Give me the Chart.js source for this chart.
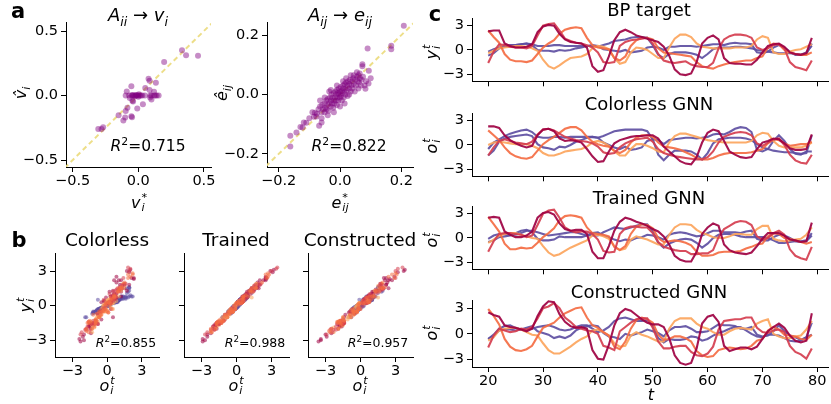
<!DOCTYPE html>
<html><head><meta charset="utf-8">
<script src="https://cdn.jsdelivr.net/npm/chart.js@4.4.1/dist/chart.umd.min.js"></script>
<style>
html,body{margin:0;padding:0;background:#fff;}
body{width:831px;height:404px;position:relative;overflow:hidden;font-family:'DejaVu Sans',sans-serif;color:#000;}
canvas{position:absolute;}
.lb{position:absolute;white-space:nowrap;line-height:1;transform:translate(-50%,-50%);}
.rot{transform:translate(-50%,-50%) rotate(-90deg);}
sub,sup{font-size:0.7em;line-height:0;}
.ss{display:inline-block;vertical-align:-0.3em;line-height:0.9;font-size:0.7em;margin-left:1px;}
.ss>span{display:block;}
</style></head><body>
<script>
// ---------------- DATA ----------------
// panel a: scatter of true vs predicted parameters
const vStar = [0.333,0.364,0.455,0.197,0.078,0.086,0.134,-0.053,-0.088,0.053,0.086,
  -0.096,-0.07,-0.05,-0.04,-0.03,-0.02,-0.01,0.0,0.01,0.02,0.005,-0.015,0.03,0.05,0.09,0.1,0.12,0.13,0.14,0.155,0.09,0.1,-0.045,0.0,-0.025,
  -0.045,-0.04,0.035,-0.008,-0.083,-0.096,-0.053,-0.048,-0.15,-0.114,-0.10,-0.28,-0.305,-0.268,-0.065,0.12];
const vHat = [0.351,0.312,0.309,0.259,0.131,0.115,0.099,0.071,0.031,0.058,0.042,
  0.0,0.0,0.0,0.0,0.0,0.0,0.0,0.0,0.0,0.0,0.01,0.005,0.0,0.0,0.0,0.0,0.0,0.0,0.0,0.0,-0.016,-0.03,0.005,-0.01,-0.005,
  -0.04,-0.047,-0.068,-0.10,-0.094,-0.12,-0.16,-0.168,-0.152,-0.194,-0.17,-0.26,-0.259,-0.246,-0.02,0.03];
const eStar = [0.208,0.167,0.167,0.09,0.073,0.073,0.094,0.064,0.093,0.083,-0.162,-0.162,-0.142,-0.129,-0.118,-0.122,-0.082,-0.077,-0.068,-0.06,
  -0.07,-0.065,-0.06,-0.058,-0.055,-0.05,-0.05,-0.048,-0.045,-0.044,-0.04,-0.04,-0.038,-0.035,-0.033,-0.03,-0.03,-0.028,-0.026,-0.025,
  -0.022,-0.02,-0.02,-0.018,-0.016,-0.015,-0.013,-0.012,-0.01,-0.01,-0.008,-0.006,-0.005,-0.004,-0.002,0.0,0.0,0.002,0.003,0.005,
  0.006,0.008,0.01,0.01,0.012,0.014,0.015,0.017,0.018,0.02,0.022,0.024,0.025,0.027,0.03,0.03,0.033,0.035,0.037,0.04,
  0.04,0.043,0.045,0.048,0.05,0.052,0.055,0.058,0.06,0.062,0.065,0.068,0.07,0.075,0.045,0.02,-0.01,-0.03,-0.05,-0.065,
  -0.075,-0.085,-0.09,-0.1,-0.11,0.085,0.08,0.1,0.055,0.035,-0.04,-0.02,0.0,0.015,-0.06,0.03,0.06,-0.035,0.01];
const eHat = [0.231,0.164,0.152,0.155,0.102,0.095,0.08,0.071,0.037,0.019,-0.139,-0.175,-0.128,-0.109,-0.094,-0.111,-0.061,-0.074,-0.105,-0.094,
  -0.05,-0.04,-0.06,-0.035,-0.05,-0.03,-0.06,-0.045,-0.02,-0.05,-0.035,-0.015,-0.055,-0.03,-0.01,-0.04,-0.02,0.0,-0.03,-0.012,
  -0.045,-0.02,0.005,-0.03,-0.01,0.01,-0.02,0.0,-0.035,0.015,-0.01,0.005,-0.02,0.02,0.0,-0.01,0.01,0.025,-0.005,0.012,
  -0.02,0.005,0.02,0.03,-0.01,0.01,0.035,0.0,0.02,0.04,0.015,0.03,-0.005,0.045,0.02,0.035,0.05,0.01,0.03,0.045,
  0.02,0.055,0.035,0.01,0.05,0.03,0.06,0.045,0.02,0.04,0.055,0.03,0.05,0.06,0.065,0.055,0.03,0.015,-0.01,-0.02,
  -0.065,-0.075,-0.06,-0.08,-0.095,0.045,0.03,0.055,0.075,0.065,-0.07,-0.06,-0.04,-0.03,-0.08,0.0,0.065,0.01,0.045];
const diagLine = [-0.7, 0.7];

// panel c: time steps and node trajectories
const tSteps = [20,21,22,23,24,25,26,27,28,29,30,31,32,33,34,35,36,37,38,39,40,41,42,43,44,45,46,47,48,49,
  50,51,52,53,54,55,56,57,58,59,60,61,62,63,64,65,66,67,68,69,70,71,72,73,74,75,76,77,78,79];

// BP target y_i^t
const bpCrimson = [2.3,2.4,2.4,0.8,0.5,0.3,0.3,0.4,0.7,2.2, 2.9,3.1,3.0,2.0,1.3,1.0,0.9,0.8,0.3,-2.0,
  -2.7,-2.5,-0.8,1.2,2.2,2.5,2.2,1.8,1.6,1.4, 1.2,1.0,0.4,-0.7,-2.4,-3.0,-3.1,-2.9,-1.5,0.8,
  1.5,1.8,1.3,-1.0,-1.6,-1.7,-1.7,-1.8,-1.8,-1.2, -0.3,0.5,0.7,0.8,0.4,-0.3,-0.5,-0.6,-0.4,1.5];
const bpRed = [-1.6,-0.2,0.7,0.6,0.4,0.3,0.3,0.2,0.5,1.8, 3.0,3.2,3.3,2.4,1.4,1.1,0.9,0.8,0.6,0.3,
  -0.3,-1.5,-1.6,-1.5,0.5,1.0,1.2,1.3,1.4,1.5, 0.8,-0.5,-1.3,-1.5,-1.6,-1.5,-1.4,-1.8,-2.0,-2.1,
  -2.1,-1.6,0.2,1.3,1.7,1.9,1.9,1.8,1.5,0.3, 0.0,0.2,0.6,0.7,0.2,-1.5,-2.1,-2.3,-2.5,-1.3];
const bpOrangeRed = [2.4,1.6,0.9,-0.5,-1.2,-1.4,-1.4,-1.5,-1.3,-0.5, 0.3,0.8,1.2,2.0,2.5,2.7,2.8,2.7,1.5,0.6,
  0.3,0.2,0.1,-1.0,-1.3,-0.8,0.5,1.2,1.5,1.5, 1.3,0.2,-0.3,-0.4,-0.5,-0.6,-0.7,-0.8,-1.5,-2.0,
  -2.2,-2.3,-2.0,-1.8,-1.6,-1.5,-1.4,-1.3,-1.3,-1.0, -0.8,0.3,0.8,0.7,0.0,-0.3,-0.5,-0.6,-0.6,-0.3];
const bpOrange = [-0.4,-0.1,0.2,0.3,0.4,0.5,0.5,0.4,0.2,-0.1, -1.2,-2.0,-2.3,-1.9,-1.4,-1.0,-0.9,-0.8,-0.5,0.2,
  0.5,0.4,0.1,-1.0,-1.7,-1.5,-0.3,0.3,0.2,0.0, -0.5,-1.0,-1.0,0.3,1.4,1.9,1.9,1.6,0.8,0.4,
  0.3,0.2,0.2,0.2,0.2,0.3,0.3,0.3,0.5,1.3, 1.7,1.5,-0.3,-0.5,-0.5,-0.2,0.0,0.1,0.4,0.7];
const bpBlueA = [-0.2,0.1,0.3,0.5,0.6,0.6,0.7,0.8,0.7,0.5, 0.5,0.5,0.6,0.6,0.5,0.5,0.5,0.5,0.5,0.5,
  0.4,0.6,0.8,1.1,1.2,1.3,1.5,1.6,1.6,1.5, 0.6,-0.6,-1.0,-0.5,-0.3,-0.3,-0.3,-0.4,-0.6,-1.0,
  -0.5,0.1,0.3,0.3,0.3,0.4,0.4,0.3,0.2,0.0, -0.1,-0.2,-0.3,-0.4,-0.4,-0.4,-0.5,-0.6,-0.5,0.8];
const bpBlueB = [-0.7,-0.4,0.2,0.4,0.5,0.6,0.7,0.8,0.6,0.0, -0.1,-0.1,-0.2,0.0,-0.1,0.0,0.2,0.3,0.5,0.6,
  0.5,0.1,0.0,-0.1,-0.2,0.0,-0.3,-0.2,-0.1,0.3, 0.4,0.3,0.0,0.4,0.4,0.5,0.5,0.5,0.4,0.5,
  0.6,0.7,0.7,0.6,0.8,0.9,0.8,0.8,0.7,-0.3, -0.4,-0.2,0.3,0.6,0.3,-0.2,-0.6,-0.6,-0.3,0.5];

// Colorless GNN o_i^t
const clCrimson = [2.3,2.3,2.1,1.2,0.6,0.2,-0.1,-0.3,-0.1,1.2, 1.9,2.0,1.7,0.8,0.5,0.6,0.5,0.3,-0.5,-1.4,
  -2.1,-2.0,-0.8,0.2,0.6,0.8,1.0,1.1,1.1,1.2, 1.2,0.8,-0.2,-0.8,-1.4,-2.0,-2.3,-2.4,-1.5,0.3,
  1.5,1.9,1.7,0.5,-0.8,-1.2,-1.5,-1.6,-1.5,-0.5, 0.3,0.5,0.8,0.7,0.2,-0.4,-0.6,-0.6,-0.5,1.3];
const clRed = [-1.3,-0.3,0.5,0.7,0.5,0.3,0.2,0.1,0.4,1.3, 1.9,2.0,1.8,1.4,1.0,0.8,0.6,0.5,0.4,0.2,
  -0.2,-0.9,-1.1,-1.0,-0.3,0.2,0.5,0.7,0.8,0.9, 0.4,-0.5,-1.0,-1.2,-1.4,-1.5,-1.6,-1.7,-1.8,-1.8,
  -1.5,-0.8,0.3,1.0,1.3,1.5,1.6,1.5,1.2,0.2, -0.1,0.3,0.7,0.8,0.0,-1.2,-1.9,-2.2,-2.3,-1.2];
const clOrangeRed = [1.8,1.2,0.6,-0.3,-1.0,-1.4,-1.6,-1.7,-1.5,-0.7, 0.1,0.6,1.0,1.5,2.0,2.2,2.2,1.8,1.0,0.4,
  0.1,-0.1,-0.2,-0.7,-1.0,-0.6,0.3,0.9,1.2,1.2, 1.0,0.3,-0.2,-0.3,-0.4,-0.6,-0.9,-1.2,-1.6,-1.8,
  -1.8,-1.6,-1.3,-1.1,-1.0,-1.0,-1.0,-1.0,-0.9,-0.7, -0.5,0.2,0.7,0.6,0.2,-0.1,0.0,0.1,0.1,0.4];
const clOrange = [0.0,0.3,0.4,0.3,0.2,0.1,0.1,0.1,-0.1,-0.4, -1.0,-1.3,-1.3,-1.1,-0.8,-0.7,-0.6,-0.5,-0.2,0.3,
  0.5,0.3,-0.1,-0.8,-1.3,-1.3,-0.5,0.1,0.1,-0.1, -0.4,-0.8,-0.9,0.3,1.1,1.4,1.4,1.2,1.0,0.8,
  0.6,0.5,0.4,0.3,0.3,0.3,0.3,0.3,0.5,1.2, 1.5,1.4,0.5,-0.1,-0.3,-0.3,-0.3,-0.3,-0.1,0.3];
const clBlueA = [-0.5,0.3,0.7,1.1,1.4,1.6,1.8,1.9,1.6,1.0, 0.9,0.9,1.0,1.0,0.9,1.0,1.0,1.0,1.0,1.0,
  0.9,1.1,1.4,1.7,1.8,1.9,1.9,1.9,1.9,1.7, 0.7,-1.2,-1.9,-1.2,-0.7,-0.7,-0.7,-0.8,-1.2,-1.8,
  -1.0,0.2,0.7,0.8,0.9,0.9,0.9,0.8,0.6,0.1, -0.3,-0.5,-0.7,-0.8,-0.9,-0.9,-1.0,-1.1,-1.0,1.2];
const clBlueB = [-1.3,-0.7,0.4,0.8,1.0,1.1,1.2,1.3,1.1,0.1, -0.3,-0.4,-0.6,-0.2,-0.3,0.0,0.4,0.6,0.9,1.0,
  0.9,0.3,0.0,-0.3,-0.5,-0.2,-0.6,-0.5,-0.3,0.5, 0.7,0.6,0.1,0.6,0.7,0.8,0.9,0.9,0.8,0.9,
  1.0,1.3,1.4,1.3,1.6,2.0,2.2,2.1,1.6,-0.6, -0.8,-0.5,0.5,1.2,0.5,-0.5,-1.1,-1.2,-0.8,-0.8];

// Trained GNN o_i^t
const trCrimson = [2.5,2.6,2.5,0.8,0.4,0.1,0.1,0.3,0.8,2.5, 3.1,3.2,2.9,1.8,1.1,0.9,1.0,1.0,0.5,-1.7,
  -2.5,-2.5,-1.0,0.9,2.0,2.5,2.3,2.0,1.8,1.5, 1.1,0.8,0.2,-0.8,-2.2,-2.7,-2.9,-2.9,-1.7,0.5,
  1.3,1.8,1.5,-0.8,-1.5,-1.8,-1.9,-2.0,-1.8,-1.0, -0.1,0.6,0.6,0.6,0.3,-0.2,-0.3,-0.5,-0.4,1.9];
const trRed = [-1.7,-0.4,0.5,0.6,0.6,0.5,0.4,0.1,0.3,1.6, 3.0,3.4,3.5,2.5,1.3,0.9,0.7,0.8,0.8,0.5,
  -0.2,-1.6,-1.8,-1.7,0.5,1.2,1.4,1.4,1.3,1.3, 0.6,-0.5,-1.1,-1.3,-1.5,-1.6,-1.6,-2.0,-2.0,-1.9,
  -1.9,-1.5,0.1,1.1,1.5,1.9,2.1,2.0,1.6,0.2, -0.2,0.0,0.6,0.9,0.4,-1.4,-2.2,-2.5,-2.7,-1.1];
const trOrangeRed = [2.6,1.7,0.8,-0.7,-1.4,-1.4,-1.2,-1.3,-1.2,-0.6, 0.1,0.6,1.2,2.2,2.7,2.8,2.7,2.5,1.3,0.6,
  0.5,0.4,0.2,-1.1,-1.5,-1.0,0.5,1.4,1.7,1.6, 1.2,0.0,-0.5,-0.4,-0.3,-0.4,-0.6,-0.9,-1.7,-2.2,
  -2.2,-2.1,-1.8,-1.7,-1.7,-1.7,-1.6,-1.3,-1.1,-0.8, -0.7,0.2,0.6,0.5,0.0,-0.1,-0.3,-0.5,-0.7,-0.5];
const trOrange = [-0.6,-0.2,0.3,0.5,0.6,0.6,0.4,0.2,0.0,-0.1, -1.0,-1.8,-2.2,-2.0,-1.6,-1.2,-0.9,-0.6,-0.3,0.3,
  0.4,0.2,-0.1,-1.0,-1.5,-1.3,-0.2,0.2,0.0,-0.2, -0.5,-0.8,-0.8,0.4,1.3,1.7,1.7,1.6,1.0,0.6,
  0.4,0.1,0.0,0.0,0.2,0.5,0.5,0.4,0.4,1.1, 1.5,1.5,-0.1,-0.3,-0.4,-0.3,-0.2,-0.1,0.4,1.3];
const trBlueA = [-0.1,0.3,0.5,0.5,0.4,0.4,0.6,0.9,0.9,0.7, 0.5,0.3,0.4,0.5,0.6,0.7,0.7,0.5,0.3,0.3,
  0.3,0.7,1.0,1.3,1.2,1.1,1.3,1.5,1.7,1.7, 0.8,-0.6,-1.2,-0.7,-0.4,-0.2,-0.1,-0.2,-0.6,-1.2,
  -0.7,0.0,0.4,0.5,0.5,0.4,0.2,0.1,0.1,0.1, 0.1,0.0,-0.3,-0.6,-0.6,-0.5,-0.4,-0.4,-0.3,0.6];
const trBlueB = [-0.5,-0.3,0.1,0.2,0.3,0.6,0.9,1.0,0.7,-0.1, -0.3,-0.3,-0.2,0.2,0.1,0.1,0.1,0.1,0.3,0.6,
  0.7,0.3,0.1,-0.2,-0.4,-0.2,-0.3,0.0,0.1,0.4, 0.3,0.1,-0.2,0.4,0.6,0.7,0.6,0.4,0.2,0.3,
  0.6,0.9,0.9,0.7,0.7,0.7,0.6,0.8,0.9,-0.1, -0.3,-0.3,0.1,0.4,0.3,0.0,-0.4,-0.5,-0.4,0.3];

// Constructed GNN o_i^t
const cnCrimson = [2.5,2.2,2.0,1.0,0.8,0.7,0.5,0.3,0.6,2.1, 3.2,3.8,3.7,2.3,1.4,0.9,0.7,0.8,0.6,-1.9,
  -2.9,-3.0,-1.3,1.0,2.4,2.9,2.7,2.2,1.7,1.3, 1.1,1.1,0.8,-0.5,-2.5,-3.4,-3.6,-3.4,-1.7,1.2,
  2.0,2.2,1.4,-1.4,-2.0,-1.8,-1.6,-1.6,-1.8,-1.5, -0.6,0.3,0.8,1.2,0.7,-0.2,-0.8,-1.0,-0.8,2.4];
const cnRed = [-1.6,-0.2,0.6,0.4,0.2,0.3,0.6,0.5,0.8,1.8, 3.0,3.2,3.6,3.0,1.9,1.4,0.8,0.6,0.4,0.3,
  0.0,-1.4,-1.6,-1.9,0.3,0.8,1.3,1.7,1.8,1.8, 0.7,-0.9,-1.7,-1.7,-1.5,-1.4,-1.4,-2.1,-2.5,-2.6,
  -2.3,-1.5,0.5,1.5,1.6,1.7,1.7,1.9,1.9,0.7, 0.2,0.1,0.4,0.5,0.2,-1.4,-2.1,-2.4,-2.9,-1.7];
const cnOrangeRed = [2.9,2.1,1.1,-0.6,-1.5,-1.9,-2.0,-1.8,-1.4,-0.3, 0.7,1.0,1.3,1.9,2.4,2.7,3.0,3.1,1.9,1.0,
  0.7,0.2,-0.2,-1.5,-1.8,-0.9,0.6,1.6,1.9,1.7, 1.3,-0.1,-0.7,-0.6,-0.3,-0.3,-0.5,-0.9,-2.0,-2.5,
  -2.7,-2.6,-1.9,-1.7,-1.6,-1.7,-1.8,-1.7,-1.4,-0.8, -0.6,0.4,0.8,0.5,-0.1,-0.2,-0.3,-0.6,-0.7,-0.1];
const cnOrange = [-0.8,-0.4,0.4,0.6,0.7,0.7,0.5,0.2,-0.1,-0.2, -1.1,-1.9,-2.3,-2.3,-1.9,-1.5,-1.0,-0.6,-0.3,0.4,
  0.5,0.2,-0.2,-1.1,-1.5,-1.4,-0.2,0.2,-0.1,-0.3, -0.6,-0.9,-0.9,0.6,1.5,1.8,1.8,1.8,1.2,0.8,
  0.6,0.2,-0.1,-0.1,0.3,0.6,0.7,0.6,0.5,1.2, 1.5,1.7,0.0,-0.3,-0.5,-0.5,-0.3,-0.2,0.5,1.5];
const cnBlueA = [-0.6,-0.1,0.6,0.9,1.0,0.7,0.5,0.5,0.6,0.8, 0.9,1.0,0.8,0.5,0.4,0.5,0.8,1.0,1.0,0.6,
  0.2,0.4,0.8,1.5,1.8,1.9,1.7,1.5,1.5,1.6, 0.9,-0.5,-1.0,-0.6,-0.7,-0.7,-0.6,-0.3,-0.4,-0.8,
  -0.6,-0.2,0.1,0.3,0.6,0.8,0.8,0.4,0.0,-0.3, -0.4,-0.1,-0.1,-0.2,-0.5,-0.8,-0.9,-0.8,-0.4,1.3];
const cnBlueB = [-0.6,-0.2,0.4,0.5,0.5,0.4,0.5,0.7,0.9,0.3, 0.1,-0.1,-0.5,-0.3,-0.5,-0.2,0.4,0.7,0.9,1.0,
  0.9,0.1,-0.3,-0.4,-0.6,0.0,-0.2,0.0,0.2,0.5, 0.3,0.1,-0.3,0.4,0.8,0.8,0.9,0.6,0.2,0.2,
  0.3,0.7,1.1,1.0,1.0,0.9,0.6,0.6,0.8,-0.1, -0.3,-0.2,0.3,1.0,0.3,-0.2,-0.4,-0.7,-0.4,-0.1];

const r2Texts = ['0.715','0.822','0.855','0.988','0.957'];
const scaleATicks = [-0.5, 0, 0.5];
const scaleETicks = [-0.2, 0, 0.2];
const scaleBTicks = [-3, 0, 3];
const scaleCYTicks = [-3, 0, 3];
const scaleCXTicks = [20, 30, 40, 50, 60, 70, 80];

// ---------------- STYLE ----------------
const lineColors = ['#9e0142','#d53e4f','#f46d43','#fca55d','#5e4fa2','#5e4fa2'];
const scatterOrder = [4, 2, 1, 3, 6, 5];
const FONT = 'DejaVu Sans';
const TICKSIZE = 14.5;

const bpSeries = [bpCrimson,bpRed,bpOrangeRed,bpOrange,bpBlueA,bpBlueB];
const clSeries = [clCrimson,clRed,clOrangeRed,clOrange,clBlueA,clBlueB];
const trSeries = [trCrimson,trRed,trOrangeRed,trOrange,trBlueA,trBlueB];
const cnSeries = [cnCrimson,cnRed,cnOrangeRed,cnOrange,cnBlueA,cnBlueB];

Chart.defaults.font.family = FONT;

function fmt1(v){ return (v<0?'\u2212':'') + Math.abs(v).toFixed(1); }
function fmt0(v){ return (v<0?'\u2212':'') + Math.abs(v).toFixed(0); }

function axis(min, max, ticks, fmt, show, pad){
  return {
    type:'linear', min:min, max:max,
    afterBuildTicks: ax => { ax.ticks = ticks.map(v => ({value:v})); },
    ticks:{ font:{family:FONT,size:TICKSIZE}, color:'#000', padding:pad, maxRotation:0, autoSkip:false,
      callback: v => show ? fmt(v) : '' },
    grid:{ drawOnChartArea:false, drawTicks:true, tickLength:5, color:'#000', lineWidth:1 },
    border:{ display:true, color:'#000', width:1 }
  };
}
const xAxis = (a,b,t,f,s) => axis(a,b,t,f,s,1);
const yAxis = (a,b,t,f,s) => axis(a,b,t,f,s,3);

function mk(box, W, H, type, datasets, xs, ys){
  const PT = 12, PR = 16;
  const w = box.r - box.l + W + PR, h = box.b - box.t + PT + H;
  const c = document.createElement('canvas');
  c.width = w; c.height = h;
  c.style.left = (box.l - W) + 'px'; c.style.top = (box.t - PT) + 'px';
  c.style.width = w + 'px'; c.style.height = h + 'px';
  document.body.appendChild(c);
  xs.afterFit = s => { s.height = H; };
  ys.afterFit = s => { s.width = W; };
  return new Chart(c, { type: type, data:{ datasets: datasets }, options:{
    responsive:false, animation:false, devicePixelRatio:1, events:[],
    layout:{ padding:{ top:PT, right:PR, left:0, bottom:0 } },
    plugins:{ legend:{display:false}, tooltip:{enabled:false}, title:{display:false} },
    scales:{ x:xs, y:ys }
  }});
}

function diagDataset(){
  return { type:'line', data: diagLine.map(v => ({x:v, y:v})), borderColor:'rgba(236,220,130,0.95)',
    borderWidth:2, borderDash:[5,3.5], pointRadius:0, fill:false, clip:0, order:2 };
}
function pts(xArr, yArr){ return xArr.map((x,i) => ({x:x, y:yArr[i]})); }

// panel a
mk({l:66,t:22,r:211,b:167}, 50, 30, 'scatter', [
  { data: pts(vStar, vHat), backgroundColor:'rgba(128,0,128,0.45)', pointRadius:3, pointBorderWidth:0, order:1 },
  diagDataset()
], xAxis(-0.551,0.554,scaleATicks,fmt1,true), yAxis(-0.554,0.570,scaleATicks,fmt1,true));

mk({l:267,t:22,r:413,b:167}, 50, 30, 'scatter', [
  { data: pts(eStar, eHat), backgroundColor:'rgba(128,0,128,0.45)', pointRadius:3, pointBorderWidth:0, order:1 },
  diagDataset()
], xAxis(-0.238,0.238,scaleETicks,fmt1,true), yAxis(-0.244,0.244,scaleETicks,fmt1,true));

// panel b: GNN output vs BP target
function bSets(gnn){
  return bpSeries.map((ys,k) => ({ data: pts(gnn[k], ys), backgroundColor: lineColors[k] + '8c',
    pointRadius:2, pointBorderWidth:0, order: scatterOrder[k] }));
}
mk({l:55,t:253,r:159,b:357}, 50, 30, 'scatter', bSets(clSeries),
  xAxis(-4.5,4.47,scaleBTicks,fmt0,true), yAxis(-4.45,4.56,scaleBTicks,fmt0,true));
mk({l:184,t:253,r:289,b:357}, 50, 30, 'scatter', bSets(trSeries),
  xAxis(-4.5,4.5,scaleBTicks,fmt0,true), yAxis(-4.45,4.56,scaleBTicks,fmt0,false));
mk({l:308,t:253,r:413,b:357}, 50, 30, 'scatter', bSets(cnSeries),
  xAxis(-4.5,4.5,scaleBTicks,fmt0,true), yAxis(-4.45,4.56,scaleBTicks,fmt0,false));

// panel c: trajectories
function cSets(series){
  return series.map((arr,k) => ({ data: pts(tSteps, arr), borderColor: lineColors[k] + 'eb',
    borderWidth:2.1, pointRadius:0, tension:0, fill:false }));
}
const cBoxes = [{l:472,t:18,r:828,b:85},{l:472,t:112.5,r:828,b:179.5},{l:472,t:206,r:828,b:273},{l:472,t:300,r:828,b:367}];
const cSeriesAll = [bpSeries, clSeries, trSeries, cnSeries];
cBoxes.forEach((bx,i) => {
  const last = i === 3;
  mk(bx, 50, last ? 30 : 8, 'line', cSets(cSeriesAll[i]),
    xAxis(17.05,81.95,scaleCXTicks,fmt0,last), yAxis(-3.87,3.95,scaleCYTicks,fmt0,true));
});

// ---------------- TEXT ----------------
function lab(html, x, y, size, opt){
  opt = opt || {};
  const d = document.createElement('div');
  d.className = 'lb' + (opt.rot ? ' rot' : '');
  d.style.left = x + 'px'; d.style.top = y + 'px'; d.style.fontSize = size + 'px';
  if (opt.bold) d.style.fontWeight = 'bold';
  d.innerHTML = html;
  document.body.appendChild(d);
}
const ss = (up, dn) => '<span class="ss"><span>' + up + '</span><span>' + dn + '</span></span>';

lab('a', 18, 11, 21, {bold:true});
lab('b', 19, 240, 21, {bold:true});
lab('c', 435, 14, 21, {bold:true});

lab('<i>A</i><sub><i>ii</i></sub> \u2192 <i>v</i><sub><i>i</i></sub>', 138, 15, 18);
lab('<i>A</i><sub><i>ij</i></sub> \u2192 <i>e</i><sub><i>ij</i></sub>', 340, 15, 18);
lab('<i>v\u0302</i><sub><i>i</i></sub>', 21, 93, 16, {rot:true});
lab('<i>v</i>' + ss('*','<i>i</i>'), 139, 203, 16);
lab('<i>\u00ea</i><sub><i>ij</i></sub>', 222, 93, 16, {rot:true});
lab('<i>e</i>' + ss('*','<i>ij</i>'), 340, 203, 16);
lab('<i>R</i><sup>2</sup>=' + r2Texts[0], 148, 147, 15.5);
lab('<i>R</i><sup>2</sup>=' + r2Texts[1], 349, 147, 15.5);

lab('Colorless', 107, 240, 18.5);
lab('Trained', 236, 240, 18.5);
lab('Constructed', 360, 240, 18.5);
lab('<i>y</i>' + ss('<i>t</i>','<i>i</i>'), 26, 305, 16, {rot:true});
[107, 236, 360].forEach(x => lab('<i>o</i>' + ss('<i>t</i>','<i>i</i>'), x, 386, 16));
lab('<i>R</i><sup>2</sup>=' + r2Texts[2], 126, 343, 12.5);
lab('<i>R</i><sup>2</sup>=' + r2Texts[3], 255, 343, 12.5);
lab('<i>R</i><sup>2</sup>=' + r2Texts[4], 378, 343, 12.5);

lab('BP target', 649, 10, 18);
lab('Colorless GNN', 649, 104, 18);
lab('Trained GNN', 649, 198, 18);
lab('Constructed GNN', 649, 292, 18);
lab('<i>y</i>' + ss('<i>t</i>','<i>i</i>'), 432, 52, 16, {rot:true});
lab('<i>o</i>' + ss('<i>t</i>','<i>i</i>'), 432, 146, 16, {rot:true});
lab('<i>o</i>' + ss('<i>t</i>','<i>i</i>'), 432, 240, 16, {rot:true});
lab('<i>o</i>' + ss('<i>t</i>','<i>i</i>'), 432, 333, 16, {rot:true});
lab('<i>t</i>', 651, 395, 16);
</script>
</body></html>
